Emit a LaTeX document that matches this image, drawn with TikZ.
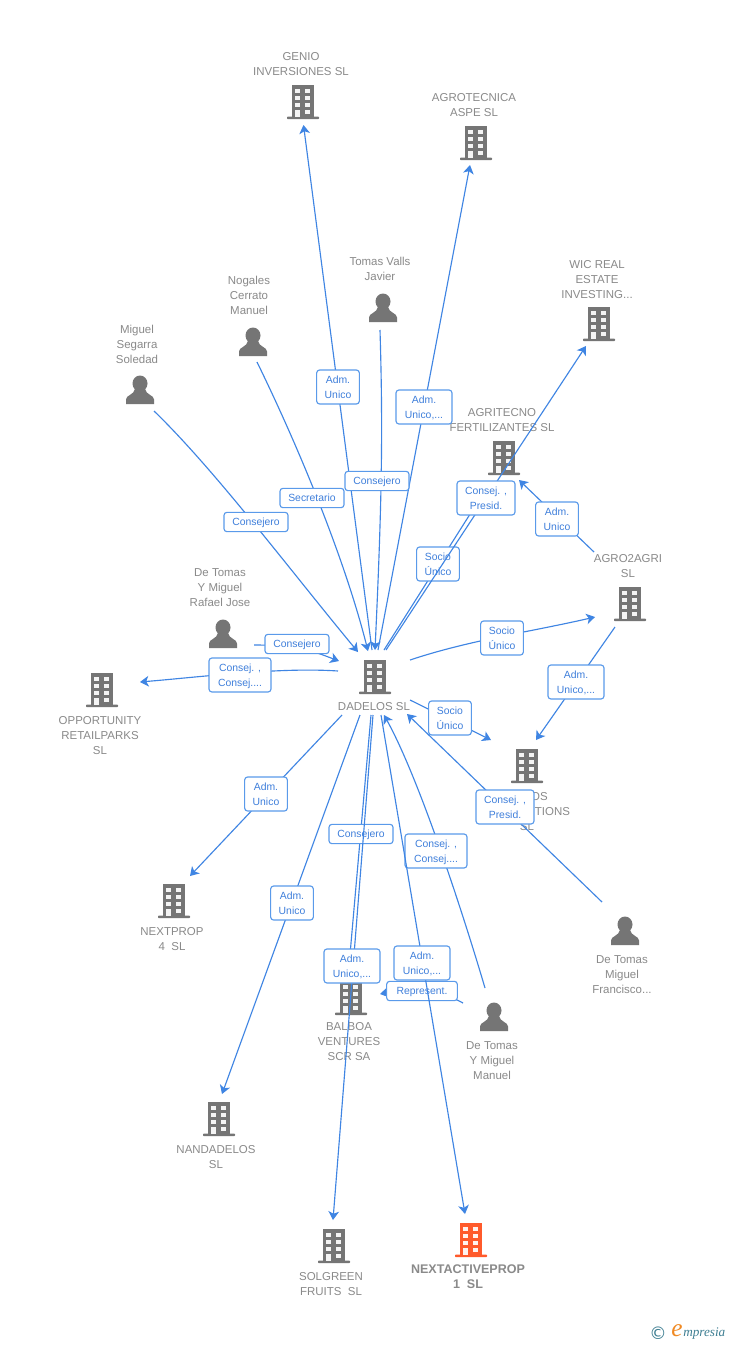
\documentclass[tikz,border=0pt]{standalone}
\usepackage{fontspec}
\setmainfont{Liberation Sans}
\newfontfamily\dejafont{DejaVu Sans}
\newfontfamily\seriffont{Liberation Serif}
\usetikzlibrary{arrows.meta}
\definecolor{icongrey}{HTML}{757575}
\definecolor{textgrey}{HTML}{8A8A8A}
\definecolor{linkblue}{HTML}{3F85E3}
\definecolor{boxblue}{HTML}{5A9AEA}
\definecolor{labelblue}{HTML}{3F7FDB}
\definecolor{hotorange}{HTML}{FF5A2B}
\definecolor{logoteal}{HTML}{3F7F93}
\definecolor{logoorange}{HTML}{F08A24}
\tikzset{
  conn/.style={draw=linkblue,line width=0.85pt,-{Stealth[length=6.5pt,width=8pt,inset=1.8pt]}},
  lbl/.style={draw=boxblue,line width=0.85pt,rounded corners=2.2pt,fill=white,text=labelblue,
    font=\fontsize{7.8pt}{11.25pt}\selectfont,align=center,inner sep=0pt,minimum height=25.5pt,text depth=0pt},
  lblone/.style={lbl,minimum height=14.5pt},
  nametext/.style={text=textgrey,font=\fontsize{8.6pt}{11.25pt}\selectfont,align=center,inner sep=0pt,yshift=-0.75pt},
  iconbox/.style={inner sep=0pt,minimum width=24pt,minimum height=25pt},
}
\newcommand{\bldg}[4][icongrey]{%
  \node[iconbox] (#2) at (#3,#4) {};
  \begin{scope}[shift={(#2.center)}]
    \fill[#1] (-11.3,-17) rectangle (11.3,15.5);
    \fill[#1,rounded corners=0.6pt] (-16,14.5) rectangle (16,17.2);
    \foreach \wy in {-12.7,-6,1}{
      \fill[white,opacity=.92] (-8,\wy) rectangle (-3,\wy+4);
      \fill[white,opacity=.92] (2,\wy) rectangle (7,\wy+4);
    }
    \fill[white,opacity=.92] (2,7.7) rectangle (7,11.7);
    \fill[white,opacity=.92] (-8,7.7) rectangle (-3,15);
  \end{scope}}
\newcommand{\persona}[3]{%
  \node[iconbox] (#1) at (#2,#3) {};
  \begin{scope}[shift={(#1.center)}]
    \fill[icongrey] (0,-6.5) ellipse (7.5 and 8);
    \fill[icongrey] (-14,14) -- (-14,9.5) .. controls (-14,5) and (-6,5) .. (-5,-1) -- (5,-1)
      .. controls (6,5) and (14,5) .. (14,9.5) -- (14,14) -- cycle;
  \end{scope}}
\begin{document}
\begin{tikzpicture}[x=0.75pt,y=-0.75pt]
\useasboundingbox (0,0) rectangle (728,1345);
\fill[white] (0,0) rectangle (728,1345);

% icons
\bldg{genio}{303}{102}
\bldg{aspe}{476}{143}
\bldg{wic}{599}{324}
\bldg{fert}{504}{458}
\bldg{agro}{630}{604}
\bldg{dadelos}{375}{677}
\bldg{retail}{102}{690}
\bldg{solut}{527}{766}
\bldg{nextp}{174}{901}
\bldg{balboa}{351}{998}
\bldg{nanda}{219}{1119}
\bldg{solgreen}{334}{1246}
\bldg[hotorange]{nexta}{471}{1240}
\persona{tomas}{383}{308}
\persona{nogales}{253}{342}
\persona{segarra}{140}{390}
\persona{rafael}{223}{634}
\persona{francisco}{625}{931}
\persona{manuel}{494}{1017}

% names
\node[nametext] (tgenio) at (301,63.5) {GENIO\\INVERSIONES SL};
\node[nametext] (taspe) at (474,104.5) {AGROTECNICA\\ASPE SL};
\node[nametext] (ttomas) at (380,267.5) {Tomas Valls\\Javier};
\node[nametext] (tnog) at (249,294) {Nogales\\Cerrato\\Manuel};
\node[nametext] (tseg) at (137,343) {Miguel\\Segarra\\Soledad};
\node[nametext] (twic) at (597,279) {WIC REAL\\ESTATE\\INVESTING...};
\node[nametext] (tfert) at (502,419.5) {AGRITECNO\\FERTILIZANTES SL};
\node[nametext] (tagro) at (628,565.5) {AGRO2AGRI\\SL};
\node[nametext] (traf) at (220,587) {De Tomas\\Y Miguel\\Rafael Jose};
\node[nametext] (tdad) at (374,706) {DADELOS SL};
\node[nametext] (tret) at (100,735) {OPPORTUNITY\\RETAILPARKS\\SL};
\node[nametext] (tsol) at (527,811) {\phantom{AGR}OS\\\phantom{AG SOL}UTIONS\\SL};
\node[nametext] (tnext) at (172,938.5) {NEXTPROP\\4\ \ SL};
\node[nametext] (tbal) at (349,1041) {BALBOA\\VENTURES\\SCR SA};
\node[nametext] (tman) at (492,1059.5) {De Tomas\\Y Miguel\\Manuel};
\node[nametext] (tfra) at (622,974) {De Tomas\\Miguel\\Francisco...};
\node[nametext] (tnan) at (216,1156.5) {NANDADELOS\\SL};
\node[nametext] (tsg) at (331,1283.5) {SOLGREEN\\FRUITS\ \ SL};
\node[nametext,font=\bfseries\fontsize{9.4pt}{11.25pt}\selectfont] (tnxa) at (468,1275.5) {NEXTACTIVEPROP\\1\ \ SL};

% connector end points
\coordinate (a1) at (372,650);   \coordinate (b1) at (303.5,125);
\coordinate (a2) at (378,650);   \coordinate (b2) at (470,165);
\coordinate (a3) at (380,330);   \coordinate (b3) at (375,650);
\coordinate (a4) at (257,362);   \coordinate (b4) at (368,651);
\coordinate (a5) at (154,411);   \coordinate (b5) at (358,652);
\coordinate (a6) at (254,645);   \coordinate (b6) at (339,661);
\coordinate (a7) at (338,671);   \coordinate (b7) at (140,682);
\coordinate (a8) at (386,650);   \coordinate (b8) at (586,346);
\coordinate (a9) at (384,650);   \coordinate (b9) at (491,481);
\coordinate (a10) at (594,552);  \coordinate (b10) at (519,480);
\coordinate (a11) at (410,660);  \coordinate (b11) at (595,617);
\coordinate (a12) at (615,627);  \coordinate (b12) at (536,740);
\coordinate (a13) at (410,700);  \coordinate (b13) at (491,740);
\coordinate (a14) at (602,902);  \coordinate (b14) at (407,714);
\coordinate (a15) at (485,988);  \coordinate (b15) at (384,715);
\coordinate (a16) at (463,1003); \coordinate (b16) at (380,994);
\coordinate (a17) at (381,715);  \coordinate (b17) at (465,1214);
\coordinate (a18) at (373,715);  \coordinate (b18) at (333,1220);
\coordinate (a19) at (371,715);  \coordinate (b19) at (349,966);
\coordinate (a20) at (360,715);  \coordinate (b20) at (222,1094);
\coordinate (a21) at (342,715);  \coordinate (b21) at (190,876);

% connectors with their labels, later ones on top
\draw[conn] (a1) -- (b1);
\node[lbl,minimum width=32pt] (l1) at (338,387) {Adm.\\Unico};
\draw[conn] (a2) -- (b2);
\node[lbl,minimum width=42pt] (l2) at (424,407) {Adm.\\Unico,...};
\draw[conn] (a4) .. controls (300,450) and (345,560) .. (b4);
\node[lblone,minimum width=48pt] (l4) at (312,498) {Secretario};
\draw[conn] (a3) .. controls (383,430) and (382,500) .. (b3);
\node[lblone,minimum width=48pt] (l3) at (377,481) {Consejero};
\draw[conn] (a5) .. controls (215,470) and (290,570) .. (b5);
\node[lblone,minimum width=48pt] (l5) at (256,522) {Consejero};
\draw[conn] (a9) -- (b9);
\node[lbl,minimum width=32pt] (l9) at (438,564) {Socio\\Único};
\draw[conn] (a8) -- (b8);
\node[lbl,minimum width=43.5pt] (l8) at (486,498) {Consej. ,\\Presid.};
\draw[conn] (a10) -- (b10);
\node[lbl,minimum width=32pt] (l10) at (557,519) {Adm.\\Unico};
\draw[conn] (a11) .. controls (470,640) and (530,632) .. (b11);
\node[lbl,minimum width=32pt] (l11) at (502,638) {Socio\\Único};
\draw[conn] (a6) .. controls (300,645) and (315,652) .. (b6);
\node[lblone,minimum width=48pt] (l6) at (297,644) {Consejero};
\draw[conn] (a7) .. controls (280,667) and (200,677) .. (b7);
\node[lbl,minimum width=46.5pt] (l7) at (240,675) {Consej. ,\\Consej....};
\draw[conn] (a12) -- (b12);
\node[lbl,minimum width=42pt] (l12) at (576,682) {Adm.\\Unico,...};
\draw[conn] (a13) -- (b13);
\node[lbl,minimum width=32pt] (l13) at (450,718) {Socio\\Único};
\draw[conn] (a14) -- (b14);
\node[lbl,minimum width=43.5pt] (l14) at (505,807) {Consej. ,\\Presid.};
\draw[conn] (a21) -- (b21);
\node[lbl,minimum width=32pt] (l21) at (266,794) {Adm.\\Unico};
\draw[conn] (a19) -- (b19);
\node[lblone,minimum width=48pt] (l19) at (361,834) {Consejero};
\draw[conn] (a15) .. controls (465,920) and (420,780) .. (b15);
\node[lbl,minimum width=46.5pt] (l15) at (436,851) {Consej. ,\\Consej....};
\draw[conn] (a20) -- (b20);
\node[lbl,minimum width=32pt] (l20) at (292,903) {Adm.\\Unico};
\draw[conn] (a18) -- (b18);
\node[lbl,minimum width=42pt] (l18) at (352,966) {Adm.\\Unico,...};
\draw[conn] (a16) .. controls (440,990) and (410,988) .. (b16);
\node[lblone,minimum width=53pt] (l16) at (422,991) {Represent.};
\draw[conn] (a17) -- (b17);
\node[lbl,minimum width=42pt] (l17) at (422,963) {Adm.\\Unico,...};

% logo
\node[inner sep=0pt,text=logoteal,font=\dejafont\fontsize{13pt}{13pt}\selectfont] (copy) at (658,1333.5) {©};
\node[inner sep=0pt,text=logoorange,font=\seriffont\itshape\fontsize{19pt}{19pt}\selectfont] (logoe) at (677,1331) {e};
\node[inner sep=0pt,text=logoteal,anchor=west,font=\seriffont\itshape\fontsize{9.9pt}{11pt}\selectfont] (logot) at (683,1334) {mpresia};
\end{tikzpicture}
\end{document}
